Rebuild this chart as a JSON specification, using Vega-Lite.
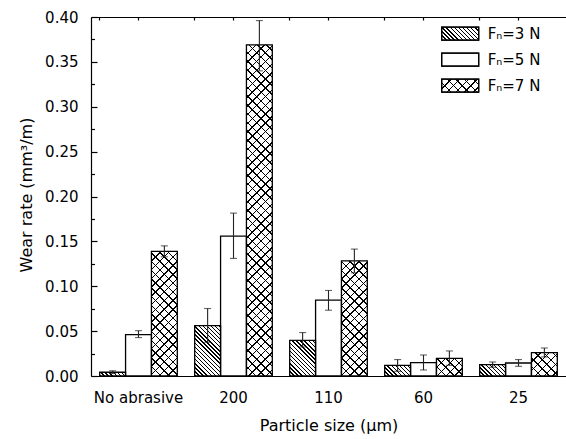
{
"$schema": "https://vega.github.io/schema/vega-lite/v6.json",
"width": 475, "height": 359,
"autosize": {"type": "none"},
"padding": {"left": 91, "top": 17, "right": 0, "bottom": 63},
"background": "white",
"config": {
  "view": {"stroke": null},
  "font": "DejaVu Sans",
  "axis": {"domainColor": "black", "domainWidth": 1.2, "tickColor": "black", "tickWidth": 1.2, "labelColor": "black", "titleColor": "black", "labelFont": "DejaVu Sans", "titleFont": "DejaVu Sans", "labelFontSize": 15, "titleFontSize": 16, "titleFontWeight": "normal", "grid": false},
  "legend": {"orient": "none", "legendX": 361.7, "legendY": 9.2, "title": null, "symbolType": "M-2.846,-1H2.846V1H-2.846Z", "symbolSize": 169, "symbolStrokeColor": "black", "symbolStrokeWidth": 1.2, "symbolOpacity": 1, "labelFont": "DejaVu Sans", "labelFontSize": 15, "labelColor": "black", "labelOffset": 20, "rowPadding": 7, "padding": 0}
},
"params": [
  {"name": "stD", "value": [
    {"offset":0,"color":"#000"},{"offset":0.0172,"color":"#000"},{"offset":0.0172,"color":"#0000"},{"offset":0.05,"color":"#0000"},
    {"offset":0.05,"color":"#000"},{"offset":0.0672,"color":"#000"},{"offset":0.0672,"color":"#0000"},{"offset":0.1,"color":"#0000"},
    {"offset":0.1,"color":"#000"},{"offset":0.1172,"color":"#000"},{"offset":0.1172,"color":"#0000"},{"offset":0.15,"color":"#0000"},
    {"offset":0.15,"color":"#000"},{"offset":0.1672,"color":"#000"},{"offset":0.1672,"color":"#0000"},{"offset":0.2,"color":"#0000"},
    {"offset":0.2,"color":"#000"},{"offset":0.2172,"color":"#000"},{"offset":0.2172,"color":"#0000"},{"offset":0.25,"color":"#0000"},
    {"offset":0.25,"color":"#000"},{"offset":0.2672,"color":"#000"},{"offset":0.2672,"color":"#0000"},{"offset":0.3,"color":"#0000"},
    {"offset":0.3,"color":"#000"},{"offset":0.3172,"color":"#000"},{"offset":0.3172,"color":"#0000"},{"offset":0.35,"color":"#0000"},
    {"offset":0.35,"color":"#000"},{"offset":0.3672,"color":"#000"},{"offset":0.3672,"color":"#0000"},{"offset":0.4,"color":"#0000"},
    {"offset":0.4,"color":"#000"},{"offset":0.4172,"color":"#000"},{"offset":0.4172,"color":"#0000"},{"offset":0.45,"color":"#0000"},
    {"offset":0.45,"color":"#000"},{"offset":0.4672,"color":"#000"},{"offset":0.4672,"color":"#0000"},{"offset":0.5,"color":"#0000"},
    {"offset":0.5,"color":"#000"},{"offset":0.5172,"color":"#000"},{"offset":0.5172,"color":"#0000"},{"offset":0.55,"color":"#0000"},
    {"offset":0.55,"color":"#000"},{"offset":0.5672,"color":"#000"},{"offset":0.5672,"color":"#0000"},{"offset":0.6,"color":"#0000"},
    {"offset":0.6,"color":"#000"},{"offset":0.6172,"color":"#000"},{"offset":0.6172,"color":"#0000"},{"offset":0.65,"color":"#0000"},
    {"offset":0.65,"color":"#000"},{"offset":0.6672,"color":"#000"},{"offset":0.6672,"color":"#0000"},{"offset":0.7,"color":"#0000"},
    {"offset":0.7,"color":"#000"},{"offset":0.7172,"color":"#000"},{"offset":0.7172,"color":"#0000"},{"offset":0.75,"color":"#0000"},
    {"offset":0.75,"color":"#000"},{"offset":0.7672,"color":"#000"},{"offset":0.7672,"color":"#0000"},{"offset":0.8,"color":"#0000"},
    {"offset":0.8,"color":"#000"},{"offset":0.8172,"color":"#000"},{"offset":0.8172,"color":"#0000"},{"offset":0.85,"color":"#0000"},
    {"offset":0.85,"color":"#000"},{"offset":0.8672,"color":"#000"},{"offset":0.8672,"color":"#0000"},{"offset":0.9,"color":"#0000"},
    {"offset":0.9,"color":"#000"},{"offset":0.9172,"color":"#000"},{"offset":0.9172,"color":"#0000"},{"offset":0.95,"color":"#0000"},
    {"offset":0.95,"color":"#000"},{"offset":0.9672,"color":"#000"},{"offset":0.9672,"color":"#0000"},{"offset":1,"color":"#0000"}
  ]},
  {"name": "stW", "value": [
    {"offset":0,"color":"#000"},{"offset":0.004,"color":"#000"},{"offset":0.004,"color":"#0000"},{"offset":0.02381,"color":"#0000"},
    {"offset":0.02381,"color":"#000"},{"offset":0.02781,"color":"#000"},{"offset":0.02781,"color":"#0000"},{"offset":0.04762,"color":"#0000"},
    {"offset":0.04762,"color":"#000"},{"offset":0.05162,"color":"#000"},{"offset":0.05162,"color":"#0000"},{"offset":0.07143,"color":"#0000"},
    {"offset":0.07143,"color":"#000"},{"offset":0.07543,"color":"#000"},{"offset":0.07543,"color":"#0000"},{"offset":0.09524,"color":"#0000"},
    {"offset":0.09524,"color":"#000"},{"offset":0.09924,"color":"#000"},{"offset":0.09924,"color":"#0000"},{"offset":0.11905,"color":"#0000"},
    {"offset":0.11905,"color":"#000"},{"offset":0.12305,"color":"#000"},{"offset":0.12305,"color":"#0000"},{"offset":0.14286,"color":"#0000"},
    {"offset":0.14286,"color":"#000"},{"offset":0.14686,"color":"#000"},{"offset":0.14686,"color":"#0000"},{"offset":0.16667,"color":"#0000"},
    {"offset":0.16667,"color":"#000"},{"offset":0.17067,"color":"#000"},{"offset":0.17067,"color":"#0000"},{"offset":0.19048,"color":"#0000"},
    {"offset":0.19048,"color":"#000"},{"offset":0.19448,"color":"#000"},{"offset":0.19448,"color":"#0000"},{"offset":0.21429,"color":"#0000"},
    {"offset":0.21429,"color":"#000"},{"offset":0.21829,"color":"#000"},{"offset":0.21829,"color":"#0000"},{"offset":0.2381,"color":"#0000"},
    {"offset":0.2381,"color":"#000"},{"offset":0.2421,"color":"#000"},{"offset":0.2421,"color":"#0000"},{"offset":0.2619,"color":"#0000"},
    {"offset":0.2619,"color":"#000"},{"offset":0.2659,"color":"#000"},{"offset":0.2659,"color":"#0000"},{"offset":0.28571,"color":"#0000"},
    {"offset":0.28571,"color":"#000"},{"offset":0.28971,"color":"#000"},{"offset":0.28971,"color":"#0000"},{"offset":0.30952,"color":"#0000"},
    {"offset":0.30952,"color":"#000"},{"offset":0.31352,"color":"#000"},{"offset":0.31352,"color":"#0000"},{"offset":0.33333,"color":"#0000"},
    {"offset":0.33333,"color":"#000"},{"offset":0.33733,"color":"#000"},{"offset":0.33733,"color":"#0000"},{"offset":0.35714,"color":"#0000"},
    {"offset":0.35714,"color":"#000"},{"offset":0.36114,"color":"#000"},{"offset":0.36114,"color":"#0000"},{"offset":0.38095,"color":"#0000"},
    {"offset":0.38095,"color":"#000"},{"offset":0.38495,"color":"#000"},{"offset":0.38495,"color":"#0000"},{"offset":0.40476,"color":"#0000"},
    {"offset":0.40476,"color":"#000"},{"offset":0.40876,"color":"#000"},{"offset":0.40876,"color":"#0000"},{"offset":0.42857,"color":"#0000"},
    {"offset":0.42857,"color":"#000"},{"offset":0.43257,"color":"#000"},{"offset":0.43257,"color":"#0000"},{"offset":0.45238,"color":"#0000"},
    {"offset":0.45238,"color":"#000"},{"offset":0.45638,"color":"#000"},{"offset":0.45638,"color":"#0000"},{"offset":0.47619,"color":"#0000"},
    {"offset":0.47619,"color":"#000"},{"offset":0.48019,"color":"#000"},{"offset":0.48019,"color":"#0000"},{"offset":0.5,"color":"#0000"},
    {"offset":0.5,"color":"#000"},{"offset":0.504,"color":"#000"},{"offset":0.504,"color":"#0000"},{"offset":0.52381,"color":"#0000"},
    {"offset":0.52381,"color":"#000"},{"offset":0.52781,"color":"#000"},{"offset":0.52781,"color":"#0000"},{"offset":0.54762,"color":"#0000"},
    {"offset":0.54762,"color":"#000"},{"offset":0.55162,"color":"#000"},{"offset":0.55162,"color":"#0000"},{"offset":0.57143,"color":"#0000"},
    {"offset":0.57143,"color":"#000"},{"offset":0.57543,"color":"#000"},{"offset":0.57543,"color":"#0000"},{"offset":0.59524,"color":"#0000"},
    {"offset":0.59524,"color":"#000"},{"offset":0.59924,"color":"#000"},{"offset":0.59924,"color":"#0000"},{"offset":0.61905,"color":"#0000"},
    {"offset":0.61905,"color":"#000"},{"offset":0.62305,"color":"#000"},{"offset":0.62305,"color":"#0000"},{"offset":0.64286,"color":"#0000"},
    {"offset":0.64286,"color":"#000"},{"offset":0.64686,"color":"#000"},{"offset":0.64686,"color":"#0000"},{"offset":0.66667,"color":"#0000"},
    {"offset":0.66667,"color":"#000"},{"offset":0.67067,"color":"#000"},{"offset":0.67067,"color":"#0000"},{"offset":0.69048,"color":"#0000"},
    {"offset":0.69048,"color":"#000"},{"offset":0.69448,"color":"#000"},{"offset":0.69448,"color":"#0000"},{"offset":0.71429,"color":"#0000"},
    {"offset":0.71429,"color":"#000"},{"offset":0.71829,"color":"#000"},{"offset":0.71829,"color":"#0000"},{"offset":0.7381,"color":"#0000"},
    {"offset":0.7381,"color":"#000"},{"offset":0.7421,"color":"#000"},{"offset":0.7421,"color":"#0000"},{"offset":0.7619,"color":"#0000"},
    {"offset":0.7619,"color":"#000"},{"offset":0.7659,"color":"#000"},{"offset":0.7659,"color":"#0000"},{"offset":0.78571,"color":"#0000"},
    {"offset":0.78571,"color":"#000"},{"offset":0.78971,"color":"#000"},{"offset":0.78971,"color":"#0000"},{"offset":0.80952,"color":"#0000"},
    {"offset":0.80952,"color":"#000"},{"offset":0.81352,"color":"#000"},{"offset":0.81352,"color":"#0000"},{"offset":0.83333,"color":"#0000"},
    {"offset":0.83333,"color":"#000"},{"offset":0.83733,"color":"#000"},{"offset":0.83733,"color":"#0000"},{"offset":0.85714,"color":"#0000"},
    {"offset":0.85714,"color":"#000"},{"offset":0.86114,"color":"#000"},{"offset":0.86114,"color":"#0000"},{"offset":0.88095,"color":"#0000"},
    {"offset":0.88095,"color":"#000"},{"offset":0.88495,"color":"#000"},{"offset":0.88495,"color":"#0000"},{"offset":0.90476,"color":"#0000"},
    {"offset":0.90476,"color":"#000"},{"offset":0.90876,"color":"#000"},{"offset":0.90876,"color":"#0000"},{"offset":0.92857,"color":"#0000"},
    {"offset":0.92857,"color":"#000"},{"offset":0.93257,"color":"#000"},{"offset":0.93257,"color":"#0000"},{"offset":0.95238,"color":"#0000"},
    {"offset":0.95238,"color":"#000"},{"offset":0.95638,"color":"#000"},{"offset":0.95638,"color":"#0000"},{"offset":0.97619,"color":"#0000"},
    {"offset":0.97619,"color":"#000"},{"offset":0.98019,"color":"#000"},{"offset":0.98019,"color":"#0000"},{"offset":1,"color":"#0000"}
  ]},
  {"name": "legD", "expr": "{gradient: 'linear', x1: 0, y1: 1, x2: 1.9733, y2: 0.3067, stops: stD}"},
  {"name": "legWb", "expr": "{gradient: 'linear', x1: 0, y1: 1, x2: 8.8455, y2: -2.1079, stops: stW}"},
  {"name": "legWf", "expr": "{gradient: 'linear', x1: 0, y1: 0, x2: 8.8455, y2: 3.1079, stops: stW}"}
],
"data": {"values": [
  {"size":"No abrasive","load":"3 N","rate":0.0042,"lo":0.0028,"hi":0.0058},
  {"size":"No abrasive","load":"5 N","rate":0.0462,"lo":0.0428,"hi":0.0505},
  {"size":"No abrasive","load":"7 N","rate":0.1388,"lo":0.1328,"hi":0.145},
  {"size":"200","load":"3 N","rate":0.0562,"lo":0.0376,"hi":0.0752},
  {"size":"200","load":"5 N","rate":0.1559,"lo":0.131,"hi":0.1815},
  {"size":"200","load":"7 N","rate":0.369,"lo":0.340,"hi":0.396},
  {"size":"110","load":"3 N","rate":0.0398,"lo":0.0324,"hi":0.0484},
  {"size":"110","load":"5 N","rate":0.0845,"lo":0.0733,"hi":0.0953},
  {"size":"110","load":"7 N","rate":0.1283,"lo":0.115,"hi":0.1414},
  {"size":"60","load":"3 N","rate":0.0119,"lo":0.0052,"hi":0.0183},
  {"size":"60","load":"5 N","rate":0.0149,"lo":0.0067,"hi":0.0234},
  {"size":"60","load":"7 N","rate":0.0197,"lo":0.0119,"hi":0.0279},
  {"size":"25","load":"3 N","rate":0.0127,"lo":0.0097,"hi":0.0156},
  {"size":"25","load":"5 N","rate":0.0145,"lo":0.0108,"hi":0.0183},
  {"size":"25","load":"7 N","rate":0.0261,"lo":0.0212,"hi":0.0312}
]},
"resolve": {"axis": {"x": "independent", "y": "independent"}, "scale": {"fill": "independent"}, "legend": {"fill": "independent"}},
"layer": [
  {
    "mark": {"type": "bar", "stroke": null, "fill": "white"},
    "encoding": {
      "x": {"field": "size", "type": "nominal", "sort": ["No abrasive","200","110","60","25"], "scale": {"paddingInner": 0.183, "paddingOuter": 0.0915},
            "axis": {"orient": "bottom", "title": "Particle size (μm)", "labelAngle": 0, "ticks": false, "labelPadding": 14, "titleY": 41, "titleBaseline": "top"}},
      "xOffset": {"field": "load", "type": "nominal", "sort": ["3 N","5 N","7 N"], "scale": {"paddingInner": 0, "paddingOuter": 0}},
      "y": {"field": "rate", "type": "quantitative", "stack": null, "scale": {"domain": [0, 0.4], "nice": false},
            "axis": {"orient": "left", "values": [0,0.05,0.1,0.15,0.2,0.25,0.3,0.35,0.4], "format": ".2f", "tickSize": -6, "labelPadding": 19, "title": "Wear rate (mm³/m)", "titleX": -57, "titleY": 177.5}}
    }
  },
  {
    "mark": {"type": "bar", "stroke": null,
             "fill": {"expr": "datum.load === '3 N' ? {gradient: 'linear', x1: 0, y1: 1, x2: 3.1706/(1+pow(34.693*datum.rate,2)), y2: 1 - 3.1706*34.693*datum.rate/(1+pow(34.693*datum.rate,2)), stops: stD} : datum.load === '7 N' ? {gradient: 'linear', x1: 0, y1: 1, x2: 14.213/(1+pow(34.693*datum.rate,2)), y2: 1 - 14.213*34.693*datum.rate/(1+pow(34.693*datum.rate,2)), stops: stW} : 'transparent'"}},
    "encoding": {
      "x": {"field": "size", "type": "nominal", "sort": ["No abrasive","200","110","60","25"], "scale": {"paddingInner": 0.183, "paddingOuter": 0.0915},
            "axis": {"orient": "top", "title": null, "labels": false, "tickSize": -3, "domain": true}},
      "xOffset": {"field": "load", "type": "nominal", "sort": ["3 N","5 N","7 N"]},
      "y": {"field": "rate", "type": "quantitative", "stack": null,
            "axis": {"orient": "left", "values": [0.025,0.075,0.125,0.175,0.225,0.275,0.325,0.375], "labels": false, "title": null, "tickSize": -3.5, "domain": false}}
    }
  },
  {
    "mark": {"type": "bar", "stroke": "black", "strokeWidth": 1.3,
             "fill": {"expr": "datum.load === '7 N' ? {gradient: 'linear', x1: 0, y1: 0, x2: 14.213/(1+pow(34.693*datum.rate,2)), y2: 14.213*34.693*datum.rate/(1+pow(34.693*datum.rate,2)), stops: stW} : 'transparent'"}},
    "encoding": {
      "x": {"field": "size", "type": "nominal", "sort": ["No abrasive","200","110","60","25"],
            "axis": {"orient": "top", "title": null, "labels": false, "tickSize": -3, "domain": false, "bandPosition": 0}},
      "xOffset": {"field": "load", "type": "nominal", "sort": ["3 N","5 N","7 N"]},
      "y": {"field": "rate", "type": "quantitative", "stack": null, "axis": null}
    }
  },
  {
    "mark": {"type": "bar", "stroke": null},
    "encoding": {
      "x": {"field": "size", "type": "nominal", "sort": ["No abrasive","200","110","60","25"], "axis": null},
      "xOffset": {"field": "load", "type": "nominal", "sort": ["3 N","5 N","7 N"]},
      "y": {"datum": 0, "type": "quantitative", "axis": null},
      "fill": {"field": "load", "type": "nominal", "sort": ["3 N","5 N","7 N"], "scale": {"range": [{"expr": "legD"}, "white", {"expr": "legWb"}]},
               "legend": {"labelExpr": "'Fₙ=' + datum.label"}}
    }
  },
  {
    "mark": {"type": "bar", "stroke": null},
    "encoding": {
      "x": {"field": "size", "type": "nominal", "sort": ["No abrasive","200","110","60","25"], "axis": null},
      "xOffset": {"field": "load", "type": "nominal", "sort": ["3 N","5 N","7 N"]},
      "y": {"datum": 0, "type": "quantitative", "axis": null},
      "fill": {"field": "load", "type": "nominal", "sort": ["3 N","5 N","7 N"], "scale": {"range": ["transparent", "transparent", {"expr": "legWf"}]},
               "legend": {"labelExpr": "''"}}
    }
  },
  {
    "mark": {"type": "rule", "color": "#222", "strokeWidth": 1.1},
    "encoding": {
      "x": {"field": "size", "type": "nominal", "sort": ["No abrasive","200","110","60","25"], "axis": null},
      "xOffset": {"field": "load", "type": "nominal", "sort": ["3 N","5 N","7 N"]},
      "y": {"field": "lo", "type": "quantitative", "axis": null},
      "y2": {"field": "hi"}
    }
  },
  {
    "mark": {"type": "tick", "color": "#222", "size": 7, "thickness": 1.1},
    "encoding": {
      "x": {"field": "size", "type": "nominal", "sort": ["No abrasive","200","110","60","25"], "axis": null},
      "xOffset": {"field": "load", "type": "nominal", "sort": ["3 N","5 N","7 N"]},
      "y": {"field": "hi", "type": "quantitative", "axis": null}
    }
  },
  {
    "mark": {"type": "tick", "color": "#222", "size": 7, "thickness": 1.1},
    "encoding": {
      "x": {"field": "size", "type": "nominal", "sort": ["No abrasive","200","110","60","25"], "axis": null},
      "xOffset": {"field": "load", "type": "nominal", "sort": ["3 N","5 N","7 N"]},
      "y": {"field": "lo", "type": "quantitative", "axis": null}
    }
  }
]
}
